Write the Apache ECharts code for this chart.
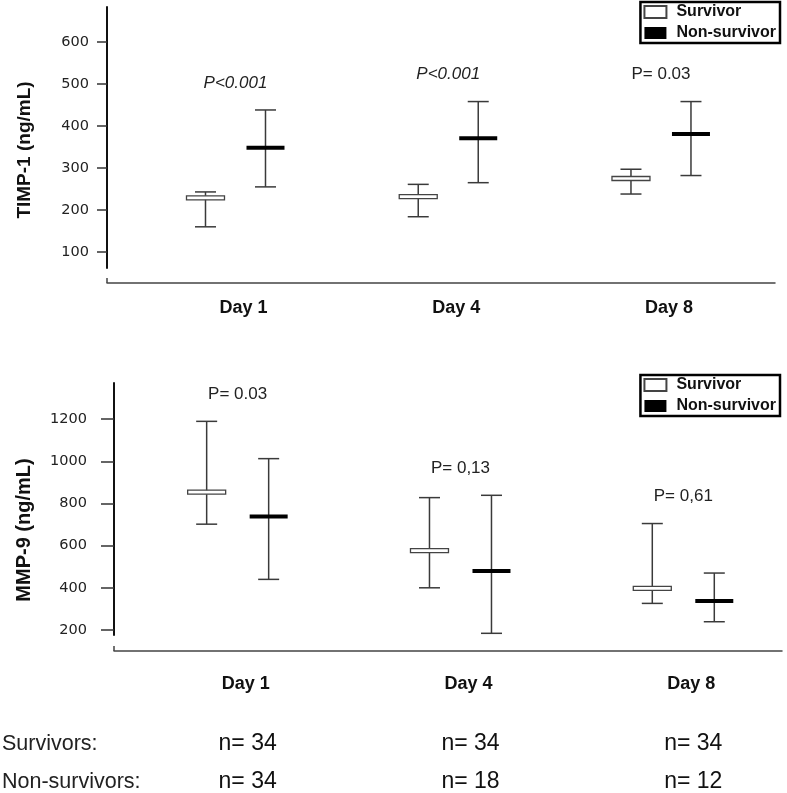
<!DOCTYPE html>
<html><head><meta charset="utf-8">
<script src="https://cdn.jsdelivr.net/npm/echarts@6/dist/echarts.min.js"></script>
<style>html,body{margin:0;padding:0;background:#fff}#c{width:787px;height:793px}</style>
</head><body><div id="c"></div>
<script>
// ---- data ----
const days = ['Day 1', 'Day 4', 'Day 8'];
const timpTicks = [100, 200, 300, 400, 500, 600];
const mmpTicks = [200, 400, 600, 800, 1000, 1200];

const timpSurvLow = [160, 184, 238];
const timpSurvMed = [229, 232, 275];
const timpSurvHigh = [243, 261, 297];
const timpNonLow = [255, 265, 282];
const timpNonMed = [348, 371, 381];
const timpNonHigh = [438, 458, 458];
const timpP = ['P<0.001', 'P<0.001', 'P= 0.03'];
const timpPItalic = [true, true, false];

const mmpSurvLow = [702, 400, 326];
const mmpSurvMed = [854, 576, 397];
const mmpSurvHigh = [1190, 828, 705];
const mmpNonLow = [440, 184, 239];
const mmpNonMed = [738, 480, 337];
const mmpNonHigh = [1013, 839, 470];
const mmpP = ['P= 0.03', 'P= 0,13', 'P= 0,61'];
const mmpPItalic = [false, false, false];

const nSurvivors = [34, 34, 34];
const nNonSurvivors = [34, 18, 12];
const rowLabels = ['Survivors:', 'Non-survivors:'];

// ---- helpers ----
const FONT = '"Liberation Sans", Arial, sans-serif';

function rows(lo, md, hi) { return days.map((d, i) => [i + 1, lo[i], md[i], hi[i]]); }

function errRender(offPx, filled) {
  return function (params, api) {
    const x = api.value(0);
    const lo = api.coord([x, api.value(1)]);
    const md = api.coord([x, api.value(2)]);
    const hi = api.coord([x, api.value(3)]);
    const cx = lo[0] + offPx;
    const capW = 21, boxW = 38, boxH = 4;
    const ls = { stroke: '#3a3a3a', lineWidth: 1.5 };
    return { type: 'group', children: [
      { type: 'line', shape: { x1: cx, y1: hi[1], x2: cx, y2: lo[1] }, style: ls },
      { type: 'line', shape: { x1: cx - capW / 2, y1: hi[1], x2: cx + capW / 2, y2: hi[1] }, style: ls },
      { type: 'line', shape: { x1: cx - capW / 2, y1: lo[1], x2: cx + capW / 2, y2: lo[1] }, style: ls },
      { type: 'rect', shape: { x: cx - boxW / 2, y: md[1] - boxH / 2, width: boxW, height: boxH },
        style: filled ? { fill: '#000' } : { fill: '#fff', stroke: '#444', lineWidth: 1.3 } }
    ]};
  };
}

function pRender(labels, italic) {
  return function (params, api) {
    const p = api.coord([api.value(0), api.value(1)]);
    const i = params.dataIndex;
    return { type: 'text', x: p[0], y: p[1] - 27, style: {
      text: labels[i], fill: '#222', fontSize: 17, fontFamily: FONT,
      fontStyle: italic[i] ? 'italic' : 'normal', align: 'center', verticalAlign: 'middle' } };
  };
}

function legendCfg(top) {
  return {
    orient: 'vertical', right: 7, top: top, itemWidth: 22, itemHeight: 12, itemGap: 5,
    padding: [2, 4, 2, 3], borderColor: '#000', borderWidth: 2.5, icon: 'rect', selectedMode: false,
    textStyle: { fontFamily: FONT, fontWeight: 'bold', fontSize: 16, color: '#111', padding: [0, 0, 0, 5], lineHeight: 16 },
    data: ['Survivor', 'Non-survivor']
  };
}

function xAxisCfg(grid, min, max, offset, margin) {
  return {
    type: 'value', gridIndex: grid, min: min, max: max, offset: offset,
    axisLine: { show: true, lineStyle: { color: '#444', width: 1.5 } },
    axisTick: { show: true, inside: true, length: 5, customValues: [min], lineStyle: { color: '#444', width: 1.5 } },
    splitLine: { show: false },
    axisLabel: { customValues: [1, 2, 3], formatter: v => days[Math.round(v) - 1] || '',
      margin: margin, padding: [0, 0, 0, 16], fontFamily: FONT, fontWeight: 'bold', fontSize: 18, color: '#111' }
  };
}

function yAxisCfg(grid, min, max, ticks, tickLen, margin) {
  return {
    type: 'value', gridIndex: grid, min: min, max: max,
    axisLine: { show: true, lineStyle: { color: '#111', width: 2 } },
    axisTick: { show: true, length: tickLen, customValues: ticks, lineStyle: { color: '#333', width: 1.5 } },
    splitLine: { show: false },
    axisLabel: { customValues: ticks, formatter: v => String(Math.round(v)), margin: margin,
      fontFamily: '"DejaVu Sans", Verdana, sans-serif', fontSize: 14.5, color: '#222' }
  };
}

const survStyle = { color: '#fff', borderColor: '#444', borderWidth: 1.2 };
const nonStyle = { color: '#000' };

const chart = echarts.init(document.getElementById('c'), null, { renderer: 'canvas' });
chart.setOption({
  animation: false,
  backgroundColor: '#fff',
  grid: [
    { left: 107, right: 12, top: 7, bottom: 525 },
    { left: 114, right: 5, top: 383, bottom: 158 }
  ],
  xAxis: [xAxisCfg(0, 0.396, 3.536, 15, 16), xAxisCfg(1, 0.445, 3.443, 16, 24)],
  yAxis: [yAxisCfg(0, 62, 683, timpTicks, 10, 18), yAxisCfg(1, 176, 1372, mmpTicks, 13, 27)],
  legend: [legendCfg(2), legendCfg(375)],
  series: [
    { name: 'Survivor', type: 'custom', xAxisIndex: 0, yAxisIndex: 0, itemStyle: survStyle,
      data: rows(timpSurvLow, timpSurvMed, timpSurvHigh), renderItem: errRender(-30, false), encode: { x: 0, y: [1, 2, 3] } },
    { name: 'Non-survivor', type: 'custom', xAxisIndex: 0, yAxisIndex: 0, itemStyle: nonStyle,
      data: rows(timpNonLow, timpNonMed, timpNonHigh), renderItem: errRender(30, true), encode: { x: 0, y: [1, 2, 3] } },
    { name: 'Survivor', type: 'custom', xAxisIndex: 1, yAxisIndex: 1, itemStyle: survStyle,
      data: rows(mmpSurvLow, mmpSurvMed, mmpSurvHigh), renderItem: errRender(-31, false), encode: { x: 0, y: [1, 2, 3] } },
    { name: 'Non-survivor', type: 'custom', xAxisIndex: 1, yAxisIndex: 1, itemStyle: nonStyle,
      data: rows(mmpNonLow, mmpNonMed, mmpNonHigh), renderItem: errRender(31, true), encode: { x: 0, y: [1, 2, 3] } },
    { type: 'custom', xAxisIndex: 0, yAxisIndex: 0, silent: true,
      data: days.map((d, i) => [i + 1, Math.max(timpSurvHigh[i], timpNonHigh[i])]), renderItem: pRender(timpP, timpPItalic) },
    { type: 'custom', xAxisIndex: 1, yAxisIndex: 1, silent: true,
      data: days.map((d, i) => [i + 1, Math.max(mmpSurvHigh[i], mmpNonHigh[i])]), renderItem: pRender(mmpP, mmpPItalic) }
  ]
});

// titles and n table
const g = [
  { type: 'text', x: 25, y: 150, rotation: Math.PI / 2,
    style: { text: 'TIMP-1 (ng/mL)', font: 'bold 19px ' + FONT, align: 'center', verticalAlign: 'middle', fill: '#111' } },
  { type: 'text', x: 24, y: 530, rotation: Math.PI / 2,
    style: { text: 'MMP-9 (ng/mL)', font: 'bold 20px ' + FONT, align: 'center', verticalAlign: 'middle', fill: '#111' } }
];
const rowY = [744, 782];
rowLabels.forEach((t, r) => g.push({ type: 'text', x: 2, y: rowY[r],
  style: { text: t, font: '21.5px ' + FONT, align: 'left', verticalAlign: 'middle', fill: '#222' } }));
[nSurvivors, nNonSurvivors].forEach((arr, r) => arr.forEach((n, i) => {
  const px = chart.convertToPixel({ xAxisIndex: 1 }, i + 1) + 10;
  g.push({ type: 'text', x: px, y: rowY[r],
    style: { text: 'n= ' + n, font: '23px ' + FONT, align: 'center', verticalAlign: 'middle', fill: '#111' } });
}));
chart.setOption({ graphic: g });
</script></body></html>
